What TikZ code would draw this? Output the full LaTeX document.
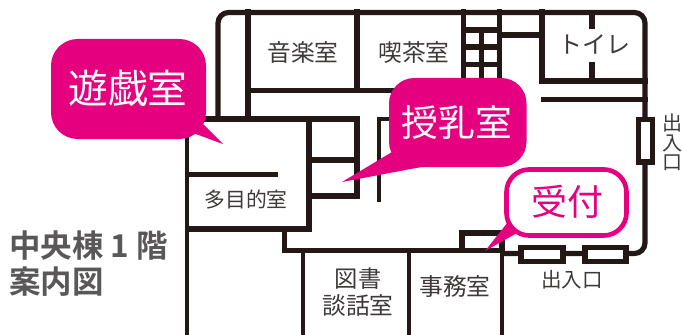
\documentclass[tikz,border=0pt]{standalone}
\usepackage{fontspec}
\setmainfont{Noto Sans CJK JP}
\newfontfamily\boldcjk{Noto Sans CJK JP Bold}
\definecolor{wallc}{HTML}{231815}
\definecolor{pinkc}{HTML}{E4007F}
\definecolor{textc}{HTML}{3E3A39}
\definecolor{titlec}{HTML}{595757}
\newcommand{\fs}[1]{\fontsize{#1}{#1}\selectfont}
\tikzset{
  wall/.style={draw=wallc,line width=3.9pt,line cap=rect,line join=miter},
  thinwall/.style={draw=wallc,line width=3pt,line cap=butt},
  doorbox/.style={draw=wallc,fill=white,line width=3.9pt},
  roomlabel/.style={text=textc,inner sep=0pt,align=center},
  bigpink/.style={text=white,inner sep=0pt},
  titlelabel/.style={text=titlec,inner sep=0pt,anchor=west},
  bubble/.style={fill=pinkc,draw=none},
}
\begin{document}
\begin{tikzpicture}[x=0.75pt,y=-0.75pt]
\useasboundingbox (0,0) rectangle (682,335);
% outer walls
\draw[wall,rounded corners=8pt] (218,119) -- (218,12.5) -- (645,12.5) -- (645,253.5) -- (504,253.5);
\draw[wall] (186.5,119) -- (357,119) -- (357,196) -- (311,196);
\draw[thinwall] (186.5,119) -- (186.5,335);
\draw[wall] (309,119) -- (309,229) -- (188,229);
\draw[wall] (190,174.5) -- (275,174.5);
\draw[wall] (311,160) -- (355,160);
\draw[wall] (284.5,231) -- (284.5,250.5) -- (502,250.5);
\draw[thinwall] (302.5,250) -- (302.5,335);
\draw[thinwall] (409,250) -- (409,335);
\draw[thinwall] (502,250) -- (502,335);
\draw[wall] (462,250) -- (462,233) -- (502,233) -- (502,250);
% upper rooms
\draw[wall] (248,12) -- (248,119);
\draw[wall] (248,90.5) -- (463,90.5);
\draw[wall] (357,12) -- (357,90.5);
\draw[thinwall] (379,201.5) -- (379,119) -- (400,119);
% stairs
\draw[wall] (463.5,12) -- (463.5,90);
\draw[wall] (481.5,30) -- (481.5,85);
\draw[wall] (499.5,12) -- (499.5,85);
\draw[wall] (463.5,30) -- (499.5,30);
\draw[wall] (463.5,47) -- (499.5,47);
\draw[wall] (463.5,64.5) -- (499.5,64.5);
% toilet
\draw[wall] (499.5,35) -- (542,35);
\draw[wall] (542,12) -- (542,81) -- (645,81);
\draw[thinwall,line width=3.9pt] (592,12) -- (592,29);
\draw[thinwall,line width=3.9pt] (592,62) -- (592,81);
\draw[wall] (544,99.5) -- (645,99.5);
% doors
\draw[doorbox] (638.5,119.5) rectangle (652.5,162);
\draw[doorbox] (521,247.5) rectangle (563,261.5);
\draw[doorbox] (585,247.5) rectangle (626,261.5);
% room labels
\node[roomlabel,font=\fs{17.8}] (ongaku) at (303,52) {音楽室};
\node[roomlabel,font=\fs{17.8}] (kissa) at (414,52) {喫茶室};
\node[roomlabel,font=\fs{18}] (toilet) at (594,44) {トイレ};
\node[roomlabel,font=\fs{15.6}] (tamokuteki) at (246,200) {多目的室};
\node[roomlabel,font=\fs{17.5}] (tosho) at (358,279) {図書};
\node[roomlabel,font=\fs{17.8}] (danwa) at (358,305) {談話室};
\node[roomlabel,font=\fs{17.8}] (jimu) at (455,287) {事務室};
\node[roomlabel,font=\fs{15.4}] (door1) at (572,280) {出入口};
\node[roomlabel,font=\fs{15}] (door2a) at (672,123) {出};
\node[roomlabel,font=\fs{15}] (door2b) at (672,143) {入};
\node[roomlabel,font=\fs{15}] (door2c) at (672,163) {口};
% title
\node[titlelabel,font=\fs{23.6}\boldcjk] (title1) at (9,246) {中央棟 1 階};
\node[titlelabel,font=\fs{23.6}\boldcjk] (title2) at (9,282) {案内図};
% bubbles
\fill[bubble] (203,124) -- (223,144) -- (193,133) -- cycle;
\fill[bubble,rounded corners=20pt] (51,39) rectangle (206,139);
\node[bigpink,font=\fs{29.8}] (yugi) at (128,88) {遊戯室};
\fill[bubble] (392,152) -- (342,182) -- (432,165) -- cycle;
\fill[bubble,rounded corners=19pt] (389,78) rectangle (526.5,167);
\node[bigpink,font=\fs{27.6}] (junyu) at (457,123) {授乳室};
\fill[bubble] (508,222) -- (485,251) -- (517,233) -- cycle;
\draw[draw=pinkc,fill=white,line width=3.5pt,rounded corners=17pt] (506.5,169.5) rectangle (626.5,235.5);
\node[inner sep=0pt,text=pinkc,font=\fs{27}] (uketsuke) at (567,202) {受付};
\end{tikzpicture}
\end{document}
